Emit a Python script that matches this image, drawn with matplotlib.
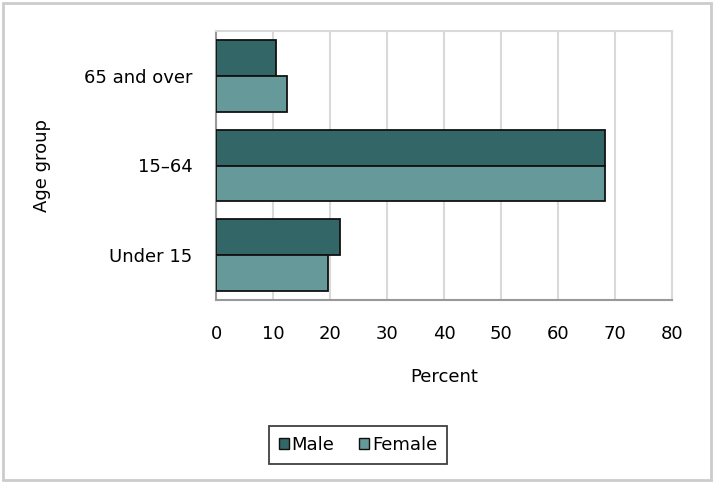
import matplotlib.pyplot as plt
import matplotlib.patches as mpatches
import numpy as np

plt.rcParams['font.family'] = ['DejaVu Sans']

# age groups bottom to top
groups = ['Under 15', '15\u201364', '65 and over']
male = [21.8, 68.2, 10.6]
female = [19.7, 68.2, 12.4]
xticks = [0, 10, 20, 30, 40, 50, 60, 70, 80]

male_color = '#336666'
female_color = '#669999'
fs = 13

fig = plt.figure(figsize=(7.13, 4.82), dpi=100)
ax = fig.add_axes([216 / 713, 1 - 300 / 482, 456 / 713, 269 / 482])

y = np.arange(len(groups))
h = 0.4
ax.barh(y + h / 2, male, height=h, color=male_color, edgecolor='#111111', linewidth=1.3, label='Male', zorder=3)
ax.barh(y - h / 2, female, height=h, color=female_color, edgecolor='#111111', linewidth=1.3, label='Female', zorder=3)

ax.set_xlim(0, 80)
ax.set_ylim(-0.5, 2.5)
ax.set_xticks(xticks)
ax.set_xticklabels([str(t) for t in xticks], fontsize=fs)
ax.set_yticks(y)
ax.set_yticklabels(groups, fontsize=fs)
ax.tick_params(axis='both', length=0)
ax.tick_params(axis='x', pad=18)
ax.tick_params(axis='y', pad=17)
ax.grid(axis='x', color='#d9d9d9', linewidth=1.5, zorder=0)

for s in ['top', 'right']:
    ax.spines[s].set_color('#d9d9d9')
    ax.spines[s].set_linewidth(1.5)
for s in ['left', 'bottom']:
    ax.spines[s].set_color('#999999')
    ax.spines[s].set_linewidth(1.5)

ax.set_xlabel('Percent', fontsize=fs, labelpad=18)
ax.set_ylabel('Age group', fontsize=fs, labelpad=24)

handles = [mpatches.Patch(facecolor=male_color, edgecolor='#111111', label='Male'),
           mpatches.Patch(facecolor=female_color, edgecolor='#111111', label='Female')]
leg = fig.legend(handles=handles, loc='center', bbox_to_anchor=(358 / 713, 1 - 445 / 482),
                 ncol=2, fontsize=fs, frameon=True, fancybox=False, handlelength=0.55,
                 handleheight=0.55, handletextpad=0.15, columnspacing=1.4, borderpad=0.55)
leg.get_frame().set_edgecolor('#111111')
leg.get_frame().set_linewidth(1.3)

# widen the legend frame a bit to match the padding of the original
fig.canvas.draw()
bb = leg.get_frame().get_bbox()
extra = 8
leg.get_frame().set_bounds(bb.x0 - extra, bb.y0, bb.width + 2 * extra, bb.height)

border = mpatches.Rectangle((3 / 713, 2 / 482), 708 / 713, 477 / 482, transform=fig.transFigure,
                            fill=False, edgecolor='#cccccc', linewidth=2)
fig.patches.append(border)

fig.savefig('out.png', dpi=100)
